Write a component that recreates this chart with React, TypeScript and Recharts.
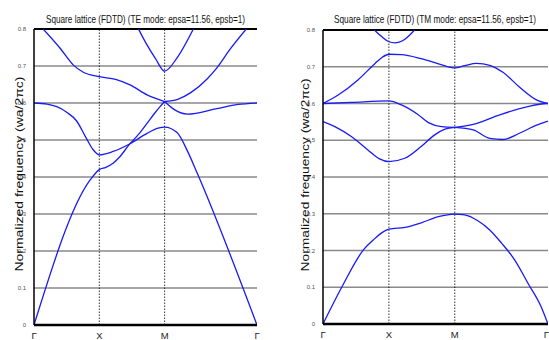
import React from "react";
import { LineChart, Line, XAxis, YAxis, CartesianGrid, ReferenceLine } from "recharts";

// path Γ - X - M - Γ, distance in units of π/a
const K_TICKS = [0, 1, 2, 2 + Math.SQRT2];
const K_LABELS = ["Γ", "X", "M", "Γ"];
const F_TICKS = [0, 0.1, 0.2, 0.3, 0.4, 0.5, 0.6, 0.7, 0.8];

// TE bands (k, normalized frequency)
const TE_ACOUSTIC = [
  { k: 0, f: 0 }, { k: 0.86, f: 0.392 }, { k: 1, f: 0.42 }, { k: 1.1, f: 0.426 },
  { k: 1.21, f: 0.437 }, { k: 1.3, f: 0.452 }, { k: 1.47, f: 0.49 }, { k: 1.6, f: 0.515 },
  { k: 1.73, f: 0.545 }, { k: 1.85, f: 0.573 }, { k: 1.93, f: 0.59 }, { k: 2, f: 0.604 },
];
const TE_SECOND = [
  { k: 0, f: 0.6 }, { k: 0.2, f: 0.597 }, { k: 0.35, f: 0.59 }, { k: 0.5, f: 0.575 },
  { k: 0.65, f: 0.552 }, { k: 0.8, f: 0.505 }, { k: 0.9, f: 0.475 }, { k: 1, f: 0.46 },
  { k: 1.21, f: 0.469 }, { k: 1.47, f: 0.49 }, { k: 1.73, f: 0.518 }, { k: 1.9, f: 0.532 },
  { k: 2, f: 0.535 }, { k: 2.19, f: 0.52 }, { k: 2.35, f: 0.47 }, { k: 2.5, f: 0.41 },
  { k: 3.414, f: 0 },
];
const TE_THIRD = [
  { k: 0.14, f: 0.8 }, { k: 0.4, f: 0.748 }, { k: 0.6, f: 0.703 }, { k: 0.755, f: 0.683 },
  { k: 1, f: 0.671 }, { k: 1.25, f: 0.664 }, { k: 1.47, f: 0.649 }, { k: 1.73, f: 0.622 },
  { k: 2, f: 0.604 },
];
const TE_TOP = [
  { k: 1.6, f: 0.8 }, { k: 1.73, f: 0.757 }, { k: 1.86, f: 0.72 }, { k: 2, f: 0.686 },
  { k: 2.19, f: 0.722 }, { k: 2.44, f: 0.8 },
];
const TE_RISE = [
  { k: 2, f: 0.604 }, { k: 2.2, f: 0.61 }, { k: 2.4, f: 0.628 }, { k: 2.65, f: 0.665 },
  { k: 2.8, f: 0.695 }, { k: 3.0, f: 0.745 }, { k: 3.25, f: 0.8 },
];
const TE_DIP = [
  { k: 2, f: 0.604 }, { k: 2.15, f: 0.582 }, { k: 2.35, f: 0.57 }, { k: 2.8, f: 0.585 },
  { k: 3.12, f: 0.596 }, { k: 3.414, f: 0.6 },
];

// TM bands
const TM_ACOUSTIC = [
  { k: 0, f: 0 }, { k: 0.29, f: 0.102 }, { k: 0.61, f: 0.201 }, { k: 0.79, f: 0.233 },
  { k: 0.89, f: 0.248 }, { k: 1, f: 0.258 }, { k: 1.245, f: 0.263 }, { k: 1.5, f: 0.276 },
  { k: 1.75, f: 0.292 }, { k: 2, f: 0.299 }, { k: 2.15, f: 0.297 }, { k: 2.35, f: 0.281 },
  { k: 2.53, f: 0.256 }, { k: 2.71, f: 0.22 }, { k: 2.91, f: 0.174 }, { k: 3.11, f: 0.111 },
  { k: 3.31, f: 0.047 }, { k: 3.414, f: 0 },
];
const TM_SECOND = [
  { k: 0, f: 0.551 }, { k: 0.18, f: 0.537 }, { k: 0.43, f: 0.51 }, { k: 0.685, f: 0.473 },
  { k: 0.85, f: 0.45 }, { k: 1, f: 0.442 }, { k: 1.24, f: 0.451 }, { k: 1.49, f: 0.483 },
  { k: 1.69, f: 0.514 }, { k: 1.85, f: 0.53 }, { k: 2, f: 0.535 },
];
const TM_THIRD = [
  { k: 0, f: 0.6 }, { k: 0.43, f: 0.603 }, { k: 1, f: 0.607 }, { k: 1.19, f: 0.596 },
  { k: 1.44, f: 0.57 }, { k: 1.6, f: 0.548 }, { k: 1.8, f: 0.537 }, { k: 2, f: 0.535 },
];
const TM_RISE = [
  { k: 2, f: 0.535 }, { k: 2.28, f: 0.543 }, { k: 2.68, f: 0.569 }, { k: 3.09, f: 0.591 },
  { k: 3.39, f: 0.6 }, { k: 3.414, f: 0.6 },
];
const TM_DIP = [
  { k: 2, f: 0.535 }, { k: 2.28, f: 0.528 }, { k: 2.53, f: 0.505 }, { k: 2.73, f: 0.502 },
  { k: 2.98, f: 0.519 }, { k: 3.24, f: 0.541 }, { k: 3.414, f: 0.552 },
];
const TM_FOURTH = [
  { k: 0, f: 0.6 }, { k: 0.23, f: 0.623 }, { k: 0.53, f: 0.664 }, { k: 0.79, f: 0.709 },
  { k: 0.9, f: 0.726 }, { k: 1, f: 0.734 }, { k: 1.19, f: 0.733 }, { k: 1.49, f: 0.722 },
  { k: 1.79, f: 0.706 }, { k: 2, f: 0.697 }, { k: 2.15, f: 0.703 }, { k: 2.33, f: 0.709 },
  { k: 2.53, f: 0.704 }, { k: 2.73, f: 0.685 }, { k: 2.98, f: 0.645 }, { k: 3.24, f: 0.61 },
  { k: 3.414, f: 0.6 },
];
const TM_TOP = [
  { k: 0.78, f: 0.8 }, { k: 0.89, f: 0.782 }, { k: 1, f: 0.768 }, { k: 1.09, f: 0.765 },
  { k: 1.2, f: 0.77 }, { k: 1.39, f: 0.8 },
];

const TE_BANDS = [TE_ACOUSTIC, TE_SECOND, TE_THIRD, TE_TOP, TE_RISE, TE_DIP];
const TM_BANDS = [TM_ACOUSTIC, TM_SECOND, TM_THIRD, TM_RISE, TM_DIP, TM_FOURTH, TM_TOP];

const BLUE = "#1a1af5";
const KMAX = K_TICKS[3];

function Panel({ bands, margin, width }: { bands: { k: number; f: number }[][]; margin: any; width: number }) {
  return (
    <LineChart width={width} height={340} margin={margin}>
      <CartesianGrid vertical={false} stroke="#8a8a8a" strokeWidth={1.5} />
      <XAxis
        type="number"
        dataKey="k"
        domain={[0, KMAX]}
        ticks={K_TICKS}
        tickFormatter={(v: number) => K_LABELS[K_TICKS.indexOf(v)] ?? ""}
        allowDataOverflow
        height={10}
        tickLine={false}
        tickMargin={1}
        axisLine={{ stroke: "#000", strokeWidth: 2.5 }}
        tick={{ fontSize: 9.5, fill: "#222", fontFamily: "Liberation Sans" }}
      />
      <YAxis
        type="number"
        domain={[0, 0.8]}
        ticks={F_TICKS}
        allowDataOverflow
        width={20}
        tickLine={false}
        tickMargin={2}
        axisLine={{ stroke: "#000", strokeWidth: 1.5 }}
        tickFormatter={(v: number) => (v === 0 ? "0" : v.toFixed(1))}
        tick={{ fontSize: 6, fill: "#555", fontFamily: "Liberation Sans" }}
      />
      <YAxis
        yAxisId="r"
        orientation="right"
        type="number"
        domain={[0, 0.8]}
        ticks={F_TICKS}
        mirror
        width={0}
        tick={false}
        tickSize={3}
        tickLine={{ stroke: "#000" }}
        axisLine={{ stroke: "#8a8a8a", strokeWidth: 2 }}
      />
      <ReferenceLine x={1} stroke="#000" strokeWidth={0.8} strokeDasharray="1.5 1.5" />
      <ReferenceLine x={2} stroke="#000" strokeWidth={0.8} strokeDasharray="1.5 1.5" />
      <ReferenceLine y={0.8} stroke="#000" strokeWidth={2} />
      {bands.map((b, i) => (
        <Line
          key={i}
          data={b}
          dataKey="f"
          type="monotone"
          stroke={BLUE}
          strokeWidth={1.3}
          dot={false}
          isAnimationActive={false}
        />
      ))}
    </LineChart>
  );
}

const YLABEL = "Normalized frequency  (wa/2πc)";

export default function App() {
  return (
    <div style={{ position: "absolute", left: 0, top: 0, width: 549, height: 340, background: "#fff", overflow: "hidden" }}>
      <div style={{ position: "absolute", left: 0, top: 0 }}>
        <Panel bands={TE_BANDS} width={275} margin={{ top: 29, right: 18, bottom: 5, left: 14 }} />
      </div>
      <div style={{ position: "absolute", left: 275, top: 0 }}>
        <Panel bands={TM_BANDS} width={274} margin={{ top: 30, right: 1, bottom: 6, left: 28 }} />
      </div>
      <svg width={549} height={340} style={{ position: "absolute", left: 0, top: 0, pointerEvents: "none" }}>
        <g fontFamily="Liberation Sans" fill="#111">
          <text x={145.5} y={23} fontSize={11.5} textAnchor="middle" textLength={199} lengthAdjust="spacingAndGlyphs">
            Square lattice (FDTD) (TE mode: epsa=11.56, epsb=1)
          </text>
          <text x={435} y={23} fontSize={11.5} textAnchor="middle" textLength={202} lengthAdjust="spacingAndGlyphs">
            Square lattice (FDTD) (TM mode: epsa=11.56, epsb=1)
          </text>
          <text transform="translate(23,174) rotate(-90)" fontSize={11} textAnchor="middle" textLength={195} lengthAdjust="spacingAndGlyphs">
            {YLABEL}
          </text>
          <text transform="translate(309,175) rotate(-90)" fontSize={11} textAnchor="middle" textLength={193} lengthAdjust="spacingAndGlyphs">
            {YLABEL}
          </text>
        </g>
      </svg>
    </div>
  );
}
